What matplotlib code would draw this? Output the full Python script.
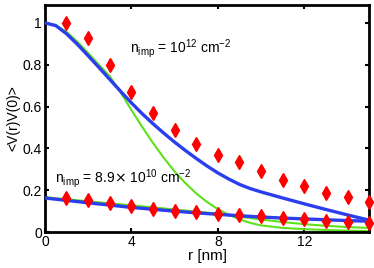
import numpy as np
import matplotlib
matplotlib.use("Agg")
import matplotlib.pyplot as plt
from matplotlib.ticker import FuncFormatter

plt.rcParams['font.family'] = ['Liberation Sans', 'DejaVu Sans']

# simulation points (red diamonds)
r_pts = [1, 2, 3, 4, 5, 6, 7, 8, 9, 10, 11, 12, 13, 14, 15]
sim_high = [1.0, 0.93, 0.80, 0.67, 0.57, 0.49, 0.42, 0.37, 0.335, 0.29, 0.25, 0.22, 0.187, 0.166, 0.142]
sim_low = [0.163, 0.153, 0.137, 0.124, 0.11, 0.10, 0.094, 0.086, 0.081, 0.078, 0.066, 0.061, 0.051, 0.049, 0.044]

# model curves, high density
r_high = [0, 0.5, 1, 1.5, 2, 2.5, 3, 3.5, 4, 4.5, 5, 5.5, 6, 6.5, 7, 7.5, 8, 8.5, 9, 9.5, 10,
          11, 12, 13, 14, 15]
blue_high = [1.0, 0.987, 0.948, 0.898, 0.843, 0.787, 0.73, 0.673, 0.618, 0.566, 0.518, 0.473, 0.43,
             0.39, 0.352, 0.316, 0.283, 0.254, 0.228, 0.208, 0.192, 0.163, 0.135, 0.108, 0.082, 0.057]
green_high = [1.0, 0.99, 0.957, 0.91, 0.856, 0.80, 0.745, 0.668, 0.584, 0.503, 0.426, 0.355, 0.29,
              0.234, 0.185, 0.144, 0.11, 0.083, 0.061, 0.044, 0.032, 0.02, 0.014, 0.01, 0.007, 0.005]

# model curves, low density
r_low = [0, 2, 4, 6, 7, 8, 9, 10, 11, 12, 13, 14, 15]
blue_low = [0.163, 0.14, 0.118, 0.10, 0.092, 0.085, 0.078, 0.072, 0.067, 0.063, 0.059, 0.055, 0.052]
green_low = [0.167, 0.147, 0.128, 0.108, 0.098, 0.088, 0.074, 0.06, 0.048, 0.038, 0.03, 0.024, 0.02]

fig = plt.figure(figsize=(3.74, 2.68), dpi=100)
ax = fig.add_axes([0.120, 0.134, 0.867, 0.847])

green = '#5ee01a'
blue = '#2a3ef0'
ax.plot(r_high, green_high, color=green, lw=1.5, zorder=2)
ax.plot(r_low, green_low, color=green, lw=1.5, zorder=2)
ax.plot(r_high, blue_high, color=blue, lw=2.4, zorder=3)
ax.plot(r_low, blue_low, color=blue, lw=2.4, zorder=3)
ax.plot(r_pts, sim_high, 'd', color='red', ms=7, mec='red', zorder=4, clip_on=False)
ax.plot(r_pts, sim_low, 'd', color='red', ms=7, mec='red', zorder=4, clip_on=False)

ax.text(3.95, 0.86, r'n$_\mathregular{imp}$ = 10$^\mathregular{12}$ cm$^\mathregular{-2}$', fontsize=10)
ax.text(0.45, 0.235, r'n$_\mathregular{imp}$ = 8.9$\times$ 10$^\mathregular{10}$ cm$^\mathregular{-2}$', fontsize=10)

ax.set_xlim(0, 15)
ax.set_ylim(0, 1.085)
ax.set_xticks([0, 4, 8, 12])
ax.set_yticks([0, 0.2, 0.4, 0.6, 0.8, 1])
ax.yaxis.set_major_formatter(FuncFormatter(lambda v, p: '%g' % v))
ax.tick_params(direction='in', top=True, right=True, length=3, width=1.5, labelsize=10, pad=2)
for s in ax.spines.values():
    s.set_linewidth(2)

ax.set_xlabel('r [nm]', fontsize=11, labelpad=0)
ax.set_ylabel('<V(r)V(0)>', fontsize=10, labelpad=2)

fig.savefig('out.png', dpi=100)
